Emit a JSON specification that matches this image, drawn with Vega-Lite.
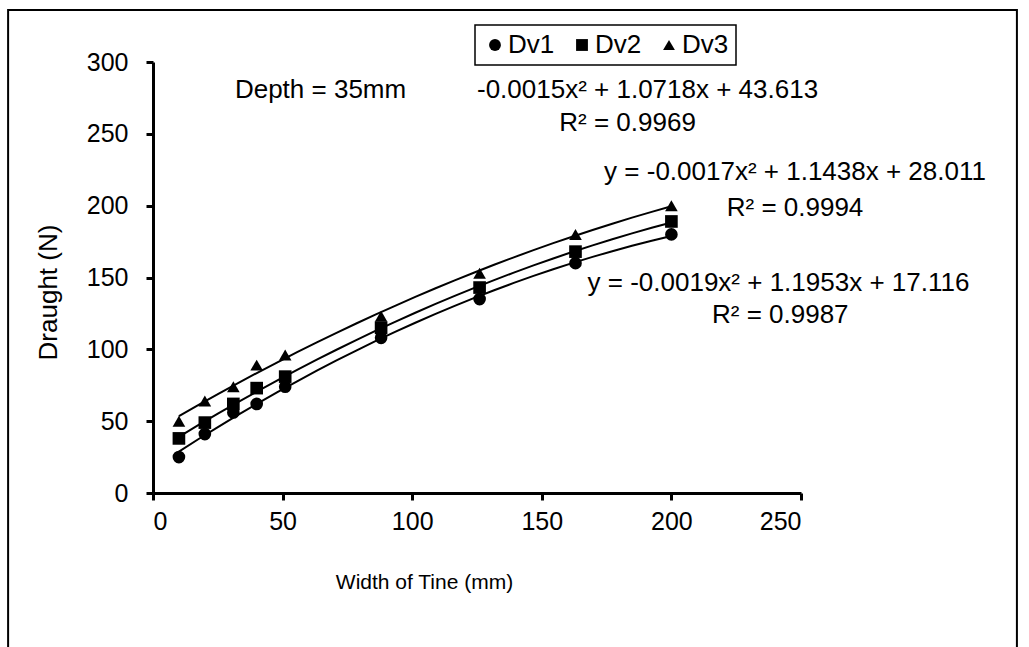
{
  "$schema": "https://vega.github.io/schema/vega-lite/v6.json",
  "width": 648,
  "height": 431,
  "autosize": {"type": "none"},
  "padding": {"left": 153, "top": 62, "right": 228, "bottom": 154},
  "background": "white",
  "config": {
    "font": "Liberation Sans",
    "view": {"stroke": null},
    "axis": {
      "grid": false,
      "domainColor": "black",
      "domainWidth": 3,
      "tickColor": "black",
      "tickWidth": 3,
      "tickSize": 7,
      "labelColor": "black",
      "labelFontSize": 25,
      "titleColor": "black",
      "titleFontSize": 26,
      "titleFontWeight": "normal"
    },
    "legend": {
      "orient": "none",
      "legendX": 322,
      "legendY": -37,
      "direction": "horizontal",
      "strokeColor": "black",
      "strokeWidth": 1.5,
      "fillColor": "white",
      "padding": 7,
      "labelFontSize": 26,
      "labelColor": "black",
      "symbolSize": 140,
      "symbolFillColor": "black",
      "symbolStrokeColor": "black",
      "columnPadding": 14,
      "labelOffset": 0
    }
  },
  "datasets": {
    "draught": [
      {"width": 10, "series": "Dv1", "draught": 25},
      {"width": 20, "series": "Dv1", "draught": 41},
      {"width": 31, "series": "Dv1", "draught": 56},
      {"width": 40, "series": "Dv1", "draught": 62},
      {"width": 51, "series": "Dv1", "draught": 74},
      {"width": 88, "series": "Dv1", "draught": 108},
      {"width": 126, "series": "Dv1", "draught": 135},
      {"width": 163, "series": "Dv1", "draught": 160},
      {"width": 200, "series": "Dv1", "draught": 180},
      {"width": 10, "series": "Dv2", "draught": 38},
      {"width": 20, "series": "Dv2", "draught": 49},
      {"width": 31, "series": "Dv2", "draught": 62},
      {"width": 40, "series": "Dv2", "draught": 73},
      {"width": 51, "series": "Dv2", "draught": 81},
      {"width": 88, "series": "Dv2", "draught": 115},
      {"width": 126, "series": "Dv2", "draught": 143},
      {"width": 163, "series": "Dv2", "draught": 168},
      {"width": 200, "series": "Dv2", "draught": 189},
      {"width": 10, "series": "Dv3", "draught": 50},
      {"width": 20, "series": "Dv3", "draught": 64},
      {"width": 31, "series": "Dv3", "draught": 74},
      {"width": 40, "series": "Dv3", "draught": 89},
      {"width": 51, "series": "Dv3", "draught": 96},
      {"width": 88, "series": "Dv3", "draught": 123},
      {"width": 126, "series": "Dv3", "draught": 153},
      {"width": 163, "series": "Dv3", "draught": 180},
      {"width": 200, "series": "Dv3", "draught": 200}
    ],
    "one": [{}]
  },
  "layer": [
    {
      "data": {"name": "one"},
      "mark": {"type": "rect", "fillOpacity": 0, "stroke": "black", "strokeWidth": 2},
      "encoding": {
        "x": {"datum": -55.9, "type": "quantitative", "scale": {"domain": [0, 250], "nice": false}},
        "x2": {"datum": 333.3},
        "y": {"datum": 336.2, "type": "quantitative", "scale": {"domain": [0, 300], "nice": false}},
        "y2": {"datum": -120}
      }
    },
    {
      "data": {"name": "draught"},
      "transform": [
        {"regression": "draught", "on": "width", "groupby": ["series"], "method": "poly", "order": 2}
      ],
      "mark": {"type": "line", "color": "black", "strokeWidth": 2},
      "encoding": {
        "x": {"field": "width", "type": "quantitative"},
        "y": {"field": "draught", "type": "quantitative"},
        "detail": {"field": "series"}
      }
    },
    {
      "data": {"name": "draught"},
      "mark": {"type": "point", "filled": true, "color": "black", "opacity": 1, "size": 160},
      "encoding": {
        "x": {
          "field": "width", "type": "quantitative",
          "scale": {"domain": [0, 250], "nice": false},
          "axis": {
            "values": [0, 50, 100, 150, 200, 250],
            "labelPadding": 9,
            "title": "Width of Tine (mm)",
            "titleFontSize": 21,
            "titleX": 271,
            "titleY": 78
          }
        },
        "y": {
          "field": "draught", "type": "quantitative",
          "scale": {"domain": [0, 300], "nice": false},
          "axis": {
            "values": [0, 50, 100, 150, 200, 250, 300],
            "labelPadding": 18,
            "title": "Draught (N)",
            "titleX": -92,
            "titleY": 230
          }
        },
        "shape": {
          "field": "series", "type": "nominal",
          "scale": {"domain": ["Dv1", "Dv2", "Dv3"], "range": ["circle", "square", "triangle-up"]},
          "legend": {"title": null}
        }
      }
    },
    {
      "data": {"name": "one"},
      "mark": {"type": "text", "fontSize": 26, "align": "left", "baseline": "middle", "color": "black"},
      "encoding": {"x": {"datum": 31.6}, "y": {"datum": 280.5}, "text": {"value": "Depth = 35mm"}}
    },
    {
      "data": {"name": "one"},
      "mark": {"type": "text", "fontSize": 26, "align": "center", "baseline": "middle", "color": "black"},
      "encoding": {"x": {"datum": 190.8}, "y": {"datum": 280.5}, "text": {"value": "-0.0015x² + 1.0718x + 43.613"}}
    },
    {
      "data": {"name": "one"},
      "mark": {"type": "text", "fontSize": 26, "align": "center", "baseline": "middle", "color": "black"},
      "encoding": {"x": {"datum": 183.1}, "y": {"datum": 257.5}, "text": {"value": "R² = 0.9969"}}
    },
    {
      "data": {"name": "one"},
      "mark": {"type": "text", "fontSize": 26, "align": "center", "baseline": "middle", "color": "black"},
      "encoding": {"x": {"datum": 247.7}, "y": {"datum": 223.4}, "text": {"value": "y = -0.0017x² + 1.1438x + 28.011"}}
    },
    {
      "data": {"name": "one"},
      "mark": {"type": "text", "fontSize": 26, "align": "center", "baseline": "middle", "color": "black"},
      "encoding": {"x": {"datum": 247.7}, "y": {"datum": 198.4}, "text": {"value": "R² = 0.9994"}}
    },
    {
      "data": {"name": "one"},
      "mark": {"type": "text", "fontSize": 26, "align": "center", "baseline": "middle", "color": "black"},
      "encoding": {"x": {"datum": 241.3}, "y": {"datum": 146.2}, "text": {"value": "y = -0.0019x² + 1.1953x + 17.116"}}
    },
    {
      "data": {"name": "one"},
      "mark": {"type": "text", "fontSize": 26, "align": "center", "baseline": "middle", "color": "black"},
      "encoding": {"x": {"datum": 242}, "y": {"datum": 123.9}, "text": {"value": "R² = 0.9987"}}
    }
  ]
}
